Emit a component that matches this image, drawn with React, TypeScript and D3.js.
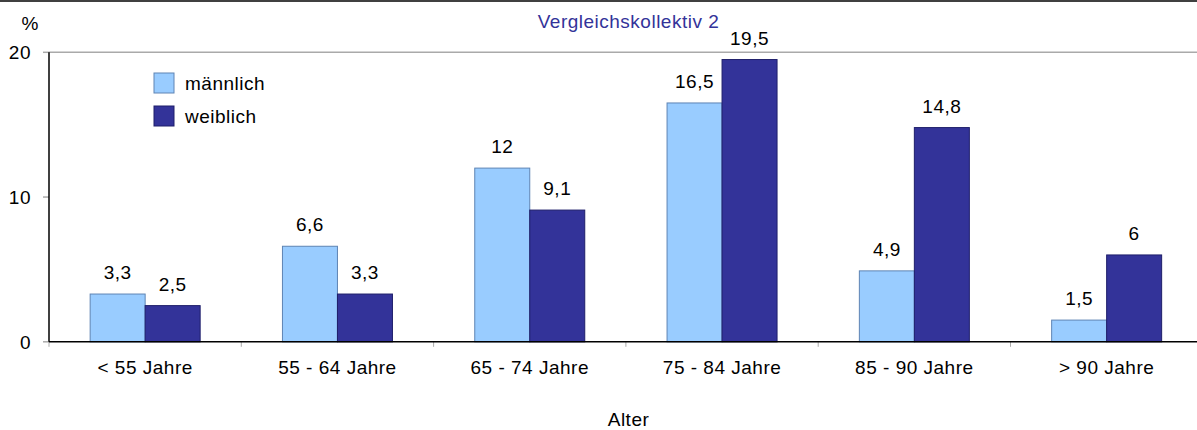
import React from "react";
import * as d3 from "d3";

// Age groups and percentage shares per sex
const categories = ["< 55 Jahre", "55 - 64 Jahre", "65 - 74 Jahre", "75 - 84 Jahre", "85 - 90 Jahre", "> 90 Jahre"];
const maennlich = [3.3, 6.6, 12, 16.5, 4.9, 1.5];
const weiblich = [2.5, 3.3, 9.1, 19.5, 14.8, 6];
const seriesNames = ["männlich", "weiblich"];
const yTicks = [0, 10, 20];

const W = 1197;
const H = 430;
const FONT = "'Liberation Sans', Arial, Helvetica, sans-serif";
const TXT = { fontFamily: FONT, fontSize: 19, letterSpacing: 0.5 } as const;

const fills = ["#99CCFF", "#333399"];
const strokes = ["#5E84B4", "#1E1E6A"];

const fmt = (v: number) => String(v).replace(".", ",");

export default function App() {
  const axisX = 49;
  const x = d3.scaleBand<string>().domain(categories).range([axisX, axisX + 6 * 192.3]).paddingInner(0).paddingOuter(0);
  const step = x.step();
  const groupW = step * 0.572;
  const sub = d3.scaleBand<string>().domain(seriesNames).range([0, groupW]).padding(0);
  const y = d3.scaleLinear().domain([0, 20]).range([341.8, 52.3]);

  const series = [maennlich, weiblich];

  return (
    <svg width={W} height={H} style={{ display: "block", position: "absolute", left: 0, top: 0 }}>
      <rect width={W} height={H} fill="#fff" />
      {/* frame line at the top */}
      <line x1={0} x2={W} y1={1} y2={1} stroke="#000" strokeWidth={1.5} />

      {/* title */}
      <text x={628.5} y={27.5} textAnchor="middle" fill="#333399" style={TXT}>Vergleichskollektiv 2</text>

      {/* top gridline */}
      <line x1={axisX} x2={W} y1={y(20)} y2={y(20)} stroke="#AAAAAA" strokeWidth={1.5} />

      {/* y ticks */}
      {yTicks.map((t) => (
        <g key={t}>
          <line x1={43} x2={axisX} y1={y(t)} y2={y(t)} stroke="#AAAAAA" strokeWidth={1.5} />
          <text x={31} y={y(t) + 7} textAnchor="end" fill="#000" style={TXT}>{t}</text>
        </g>
      ))}
      <text x={21.5} y={29.5} fill="#000" style={TXT}>%</text>

      {/* bars */}
      {categories.map((c, i) => {
        const gx = (x(c) as number) + (step - groupW) / 2;
        return (
          <g key={c}>
            {series.map((s, k) => {
              const bx = gx + (sub(seriesNames[k]) as number);
              const bw = sub.bandwidth();
              const top = y(s[i]);
              return (
                <g key={k}>
                  <rect x={bx} y={top} width={bw} height={y(0) - top} fill={fills[k]} stroke={strokes[k]} strokeWidth={1} />
                  <text x={bx + bw / 2} y={top - 15} textAnchor="middle" fill="#000" style={TXT}>{fmt(s[i])}</text>
                </g>
              );
            })}
          </g>
        );
      })}

      {/* x category ticks */}
      {categories.map((c) => (
        <line key={c} x1={x(c) as number} x2={x(c) as number} y1={y(0)} y2={y(0) + 5} stroke="#AAAAAA" strokeWidth={1} />
      ))}

      {/* axes */}
      <line x1={axisX} x2={axisX} y1={y(20)} y2={y(0)} stroke="#000" strokeWidth={1.5} />
      <line x1={axisX} x2={W} y1={y(0)} y2={y(0)} stroke="#000" strokeWidth={1.5} />

      {/* category labels */}
      {categories.map((c) => (
        <text key={c} x={(x(c) as number) + step / 2} y={373.5} textAnchor="middle" fill="#000" style={TXT}>{c}</text>
      ))}

      {/* axis title */}
      <text x={628.5} y={426} textAnchor="middle" fill="#000" style={TXT}>Alter</text>

      {/* legend */}
      {seriesNames.map((n, k) => (
        <g key={n}>
          <rect x={154} y={73 + k * 33} width={20} height={20} fill={fills[k]} stroke={strokes[k]} strokeWidth={1} />
          <text x={185} y={90 + k * 33} fill="#000" style={TXT}>{n}</text>
        </g>
      ))}
    </svg>
  );
}
